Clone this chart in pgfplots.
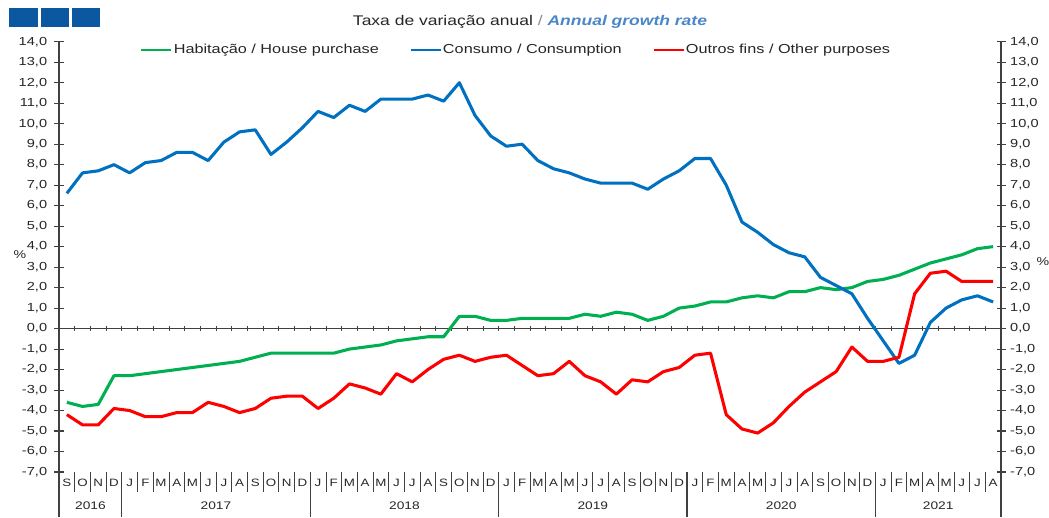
\documentclass[border=0pt]{standalone}
\usepackage{fontspec}
\setmainfont{Liberation Sans}[FakeStretch=1.25]
\usepackage{pgfplots}
\usepackage{pgfplotstable}
\pgfplotsset{compat=1.18}

\definecolor{cgreen}{HTML}{00B050}
\definecolor{cblue}{HTML}{0070C0}
\definecolor{cred}{HTML}{FF0000}
\definecolor{cbox}{RGB}{12,88,160}
\definecolor{ctitle}{RGB}{74,134,200}
\definecolor{caxis}{RGB}{64,64,64}

\pgfplotstableread{
x hab con out
0 -3.6 6.6 -4.2
1 -3.8 7.6 -4.7
2 -3.7 7.7 -4.7
3 -2.3 8.0 -3.9
4 -2.3 7.6 -4.0
5 -2.2 8.1 -4.3
6 -2.1 8.2 -4.3
7 -2.0 8.6 -4.1
8 -1.9 8.6 -4.1
9 -1.8 8.2 -3.6
10 -1.7 9.1 -3.8
11 -1.6 9.6 -4.1
12 -1.4 9.7 -3.9
13 -1.2 8.5 -3.4
14 -1.2 9.1 -3.3
15 -1.2 9.8 -3.3
16 -1.2 10.6 -3.9
17 -1.2 10.3 -3.4
18 -1.0 10.9 -2.7
19 -0.9 10.6 -2.9
20 -0.8 11.2 -3.2
21 -0.6 11.2 -2.2
22 -0.5 11.2 -2.6
23 -0.4 11.4 -2.0
24 -0.4 11.1 -1.5
25 0.6 12.0 -1.3
26 0.6 10.4 -1.6
27 0.4 9.4 -1.4
28 0.4 8.9 -1.3
29 0.5 9.0 -1.8
30 0.5 8.2 -2.3
31 0.5 7.8 -2.2
32 0.5 7.6 -1.6
33 0.7 7.3 -2.3
34 0.6 7.1 -2.6
35 0.8 7.1 -3.2
36 0.7 7.1 -2.5
37 0.4 6.8 -2.6
38 0.6 7.3 -2.1
39 1.0 7.7 -1.9
40 1.1 8.3 -1.3
41 1.3 8.3 -1.2
42 1.3 7.0 -4.2
43 1.5 5.2 -4.9
44 1.6 4.7 -5.1
45 1.5 4.1 -4.6
46 1.8 3.7 -3.8
47 1.8 3.5 -3.1
48 2.0 2.5 -2.6
49 1.9 2.1 -2.1
50 2.0 1.7 -0.9
51 2.3 0.5 -1.6
52 2.4 -0.6 -1.6
53 2.6 -1.7 -1.4
54 2.9 -1.3 1.7
55 3.2 0.3 2.7
56 3.4 1.0 2.8
57 3.6 1.4 2.3
58 3.9 1.6 2.3
59 4.0 1.3 2.3
}\datatable

\pgfplotsset{
  numfmt/.style={
    /pgf/number format/fixed,
    /pgf/number format/fixed zerofill,
    /pgf/number format/precision=1,
    /pgf/number format/use comma,
    /pgf/number format/assume math mode=true},
  common/.style={
    at={(44.25pt,28.5pt)}, anchor=south west,
    scale only axis, width=706.5pt, height=322.7pt,
    xmin=-0.5, xmax=59.5, ymin=-7, ymax=14,
    ytick={-7,-6,...,14},
    tick align=center,
    major tick length=6.75pt,
    ytick style={draw=caxis, line width=0.8pt},
    y axis line style={draw=caxis, line width=0.8pt},
    yticklabel style={numfmt, font=\fontsize{8.75}{10}\selectfont, text=black!85},
    clip=false,
  }
}

\begin{document}
\begin{tikzpicture}
\begin{scope}[x=0.75pt,y=0.75pt]
\useasboundingbox (0,0) rectangle (1049,510);
\fill[cbox] (9.3,483.3) rectangle (37.7,501.7);
\fill[cbox] (40.7,483.3) rectangle (69,501.7);
\fill[cbox] (72,483.3) rectangle (100.3,501.7);
\node[font=\fontsize{10.5}{12}\selectfont, text=black!85] at (530,488)
  {Taxa de variação anual {\color{black!45}/} \textcolor{ctitle}{\bfseries\itshape Annual growth rate}};
\node[font=\fontsize{8.5}{10}\selectfont, text=black!85] at (20,255) {\%};
\node[font=\fontsize{8.5}{10}\selectfont, text=black!85] at (1043,248) {\%};
\end{scope}

\begin{axis}[common,
  axis x line*=bottom, x axis line style={draw=none},
  axis y line*=left,
  yticklabel style={xshift=-2pt},
  xtick={0,...,59},
  xticklabels={S,O,N,D,J,F,M,A,M,J,J,A,S,O,N,D,J,F,M,A,M,J,J,A,S,O,N,D,J,F,M,A,M,J,J,A,S,O,N,D,J,F,M,A,M,J,J,A,S,O,N,D,J,F,M,A,M,J,J,A},
  xtick style={draw=none},
  xticklabel style={font=\fontsize{8}{10}\selectfont, text=black!85, anchor=base, yshift=-7.5pt},
  legend columns=3,
  legend style={draw=none, fill=none, at={(0.485,0.981)}, anchor=center,
    font=\fontsize{9.75}{11}\selectfont, text=black!85, inner sep=0pt,
    nodes={inner xsep=1pt},
    /tikz/every even column/.append style={column sep=22pt}},
  legend image code/.code={\draw[#1, line width=1.6pt] (0pt,0pt) -- (22.5pt,0pt);},
]
\draw[caxis, line width=0.8pt] (axis cs:-0.5,0) -- (axis cs:59.5,0);
\pgfplotsinvokeforeach{0.5,1.5,...,58.5}{
  \draw[caxis, line width=0.6pt] (axis cs:#1,-0.11) -- (axis cs:#1,0.11);
  \draw[caxis, line width=0.6pt] (axis cs:#1,-7) -- (axis cs:#1,-7.98);
}
\pgfplotsinvokeforeach{-0.5,3.5,15.5,27.5,39.5,51.5,59.5}{
  \draw[caxis, line width=0.8pt] (axis cs:#1,-7) -- (axis cs:#1,-9.2);
}
\node[font=\fontsize{8.25}{10}\selectfont, text=black!85] at (axis cs:1.5,-8.65) {2016};
\node[font=\fontsize{8.25}{10}\selectfont, text=black!85] at (axis cs:9.5,-8.65) {2017};
\node[font=\fontsize{8.25}{10}\selectfont, text=black!85] at (axis cs:21.5,-8.65) {2018};
\node[font=\fontsize{8.25}{10}\selectfont, text=black!85] at (axis cs:33.5,-8.65) {2019};
\node[font=\fontsize{8.25}{10}\selectfont, text=black!85] at (axis cs:45.5,-8.65) {2020};
\node[font=\fontsize{8.25}{10}\selectfont, text=black!85] at (axis cs:55.5,-8.65) {2021};

\addplot[cgreen, line width=2.3pt, line join=round] table[x=x,y=hab] {\datatable};
\addlegendentry{Habitação / House purchase}
\addplot[cblue, line width=2.3pt, line join=round] table[x=x,y=con] {\datatable};
\addlegendentry{Consumo / Consumption}
\addplot[cred, line width=2.3pt, line join=round] table[x=x,y=out] {\datatable};
\addlegendentry{Outros fins / Other purposes}
\end{axis}

\begin{axis}[common,
  axis x line=none,
  axis y line*=right,
]
\end{axis}
\end{tikzpicture}
\end{document}
